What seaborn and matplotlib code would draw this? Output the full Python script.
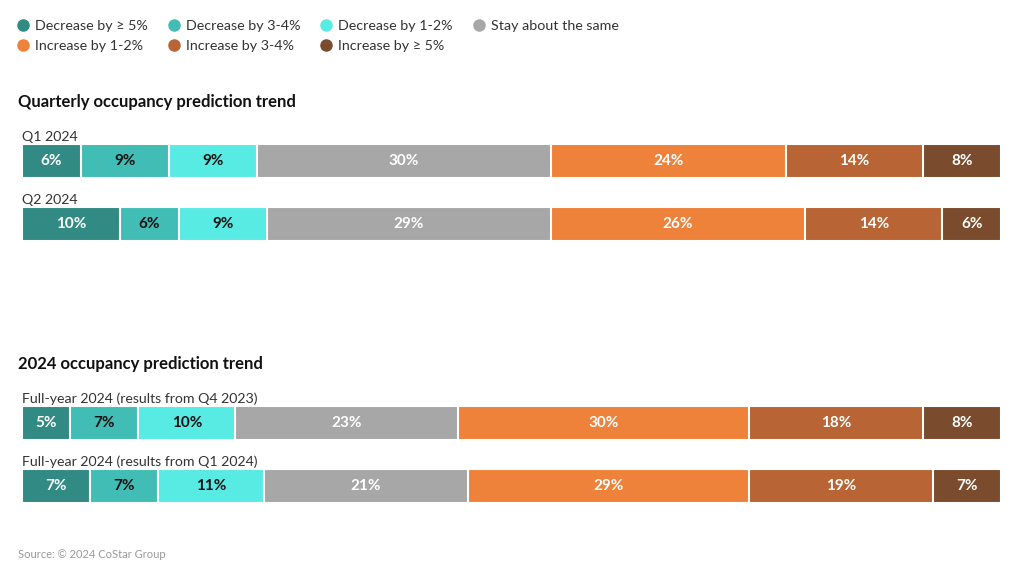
import numpy as np
import pandas as pd
import seaborn as sns
import matplotlib.pyplot as plt
from matplotlib.lines import Line2D

categories = ["Decrease by \u2265 5%", "Decrease by 3-4%", "Decrease by 1-2%", "Stay about the same",
              "Increase by 1-2%", "Increase by 3-4%", "Increase by \u2265 5%"]
colors = ["#318a83", "#41bdb6", "#58ebe3", "#a7a7a7", "#ef823b", "#b86434", "#7a4b2c"]
label_colors = ["white", "#111111", "#111111", "white", "white", "white", "white"]

quarter_rows = ["Q1 2024", "Q2 2024"]
quarter_q1 = [6, 9, 9, 30, 24, 14, 8]
quarter_q2 = [10, 6, 9, 29, 26, 14, 6]

year_rows = ["Full-year 2024 (results from Q4 2023)", "Full-year 2024 (results from Q1 2024)"]
year_q4 = [5, 7, 10, 23, 30, 18, 8]
year_q1 = [7, 7, 11, 21, 29, 19, 7]

sns.set_theme(style="white")
plt.rcParams["font.family"] = ["Lato", "DejaVu Sans"]

fig = plt.figure(figsize=(10.24, 5.76), dpi=100)


def stacked(ax, rows, values):
    df = pd.DataFrame(values, index=rows, columns=categories)
    cum = df.cumsum(axis=1)
    # draw from the full total down so smaller cumulative bars sit on top
    for i in range(len(categories) - 1, -1, -1):
        sns.barplot(x=cum.iloc[:, i].values, y=rows, orient="h", color=colors[i],
                    saturation=1, width=0.54, edgecolor="white", linewidth=1.5,
                    errorbar=None, ax=ax)
    for r, row in enumerate(rows):
        left = 0
        for i, v in enumerate(df.loc[row]):
            ax.text(left + v / 2, r, f"{v}%", ha="center", va="center",
                    color=label_colors[i], fontsize=11, fontweight="bold")
            left += v
        ax.text(0, r - 0.29, row, ha="left", va="bottom", fontsize=10.2, color="#333333")
    ax.set_xlim(0, cum.iloc[:, -1].max())
    ax.set_ylim(1.45, -0.65)
    ax.set_axis_off()


ax1 = fig.add_axes([22 / 1024, 0.562, 979 / 1024, 0.2297])
stacked(ax1, quarter_rows, [quarter_q1, quarter_q2])
ax2 = fig.add_axes([22 / 1024, 0.1071, 979 / 1024, 0.2297])
stacked(ax2, year_rows, [year_q4, year_q1])

fig.text(18 / 1024, 1 - 102 / 576, "Quarterly occupancy prediction trend", fontsize=12,
         fontweight="bold", va="center", color="#111111")
fig.text(18 / 1024, 1 - 364 / 576, "2024 occupancy prediction trend", fontsize=12,
         fontweight="bold", va="center", color="#111111")
fig.text(18 / 1024, 1 - 555 / 576, "Source: \u00a9 2024 CoStar Group", fontsize=8,
         va="center", color="#999999")

# legend: order so column-major filling reads row by row
order = [0, 4, 1, 5, 2, 6, 3]
handles = [Line2D([], [], marker="o", linestyle="", markersize=8,
                  markerfacecolor=colors[i], markeredgecolor=colors[i]) for i in order]
fig.legend(handles, [categories[i] for i in order], ncol=4, loc="upper left",
           bbox_to_anchor=(3 / 1024, 1 - 7 / 576), frameon=False, fontsize=10.3,
           handletextpad=0.35, columnspacing=1.3, labelspacing=0.55, handlelength=1.0,
           labelcolor="#333333")

fig.savefig("out.png", dpi=100)
